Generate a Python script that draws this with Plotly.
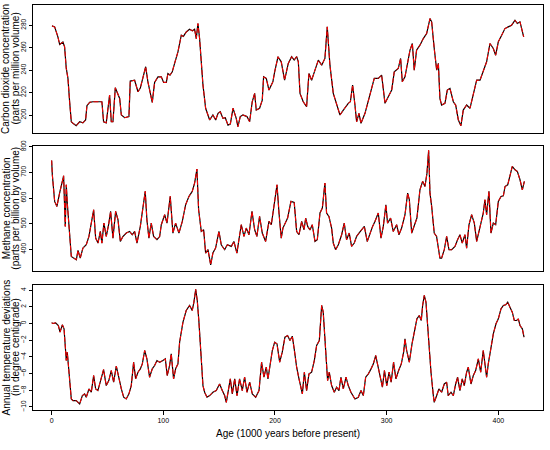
import plotly.graph_objects as go

# ---------------- data ----------------
co2_age = [0.3, 2.7, 5.6, 7.2, 10.1, 11.6, 13.1, 14.6, 16.1, 17.6,
           19.1, 22.0, 25.1, 28.0, 30.4, 31.6, 34.0, 37.0, 45.0, 46.5,
           48.9, 51.9, 53.4, 54.9, 57.0, 60.9, 62.4, 65.4, 69.2, 70.4,
           74.3, 77.3, 79.4, 81.8, 84.2, 86.2, 90.1, 92.2, 95.2, 98.2,
           100.3, 102.7, 104.1, 106.0, 108.0, 110.1, 113.1, 116.1, 118.0, 120.5,
           123.5, 126.0, 128.0, 129.5, 131.0, 132.5, 135.5, 137.9, 140.0, 141.5,
           144.4, 146.9, 149.0, 151.0, 153.4, 155.5, 157.9, 160.0, 162.4, 165.3,
           166.8, 168.9, 171.3, 174.9, 177.3, 179.6, 181.8, 183.2, 186.2, 188.6,
           189.8, 192.2, 194.6, 196.6, 198.1, 199.7, 202.7, 205.6, 208.6, 211.9,
           214.9, 217.2, 219.4, 220.9, 222.4, 225.3, 228.3, 230.4, 232.8, 235.8,
           238.8, 241.8, 244.7, 246.8, 249.2, 252.2, 255.2, 258.2, 261.2, 265.6,
           267.5, 269.5, 271.6, 273.1, 275.2, 277.0, 280.6, 283.6, 286.6, 288.9,
           292.5, 295.5, 298.5, 301.5, 304.5, 306.8, 310.4, 312.5, 314.0, 316.4,
           318.8, 320.9, 323.0, 324.7, 326.8, 329.8, 332.8, 335.8, 338.8, 340.3,
           342.6, 344.8, 346.3, 347.7, 349.2, 352.2, 354.3, 356.7, 359.7, 361.8,
           364.2, 366.5, 368.6, 371.6, 374.6, 377.6, 380.6, 383.6, 386.5, 389.5,
           392.5, 395.5, 397.6, 400.0, 403.0, 405.9, 408.9, 411.9, 414.9, 417.0,
           419.4, 420.9, 422.7]
co2_ppmv = [279.4, 278.5, 269.6, 262.8, 265.0, 260.7, 241.5, 232.6, 211.8, 194.0,
            192.6, 190.5, 194.0, 193.0, 195.6, 208.3, 211.3, 211.8, 211.8, 194.0,
            193.0, 217.8, 194.0, 194.0, 224.3, 214.8, 200.0, 197.6, 198.6, 230.2,
            231.0, 220.7, 224.0, 233.2, 243.0, 229.6, 211.3, 229.0, 234.0, 234.0,
            229.0, 229.0, 237.0, 235.6, 238.5, 246.0, 256.3, 271.1, 270.0, 274.0,
            276.4, 275.0, 276.4, 268.0, 281.5, 268.0, 226.7, 206.0, 200.0, 195.6,
            200.0, 195.6, 201.5, 202.9, 197.0, 197.6, 191.0, 192.0, 206.0, 197.0,
            189.6, 198.6, 200.0, 198.6, 194.0, 211.8, 219.3, 204.4, 206.0, 213.3,
            234.0, 232.6, 222.2, 226.7, 229.6, 238.5, 251.9, 247.4, 231.1, 246.0,
            252.0, 249.0, 252.0, 247.4, 219.3, 211.8, 207.4, 237.0, 231.0, 240.0,
            248.9, 244.4, 250.4, 278.5, 244.4, 219.3, 208.9, 200.0, 204.4, 210.4,
            211.8, 226.7, 208.9, 194.0, 201.5, 192.6, 201.5, 213.3, 223.7, 232.6,
            232.6, 235.6, 210.4, 216.3, 222.2, 238.5, 241.5, 250.4, 229.6, 234.0,
            246.0, 257.8, 263.7, 240.0, 257.8, 262.2, 268.1, 272.6, 285.9, 283.0,
            259.3, 240.0, 246.0, 214.8, 208.9, 210.4, 222.2, 223.7, 211.8, 208.9,
            195.6, 190.5, 204.4, 208.9, 206.0, 219.3, 231.0, 231.0, 240.0, 247.4,
            263.7, 259.3, 253.3, 265.2, 271.1, 277.0, 278.5, 280.0, 284.4, 281.5,
            283.0, 275.6, 269.6]

ch4_age = [0.0, 0.6, 2.7, 4.7, 7.1, 8.6, 10.7, 12.2, 13.1, 14.0,
           15.5, 17.6, 19.7, 22.1, 23.6, 25.6, 28.0, 31.0, 33.4, 35.5,
           37.6, 39.4, 41.5, 43.6, 45.0, 46.8, 48.9, 51.0, 52.8, 54.9,
           57.3, 59.4, 61.5, 63.8, 66.8, 69.8, 72.2, 74.3, 76.4, 79.4,
           81.8, 83.8, 85.3, 87.1, 89.2, 91.3, 94.3, 96.7, 98.2, 101.2,
           103.3, 106.2, 108.6, 111.0, 114.0, 117.0, 120.0, 123.0, 125.9, 128.0,
           130.1, 131.6, 134.0, 136.1, 137.9, 140.0, 142.4, 144.4, 146.8, 149.8,
           151.9, 154.9, 157.3, 160.9, 163.2, 165.9, 167.7, 169.8, 172.2, 174.3,
           176.7, 179.4, 181.8, 183.8, 186.2, 188.6, 191.6, 194.6, 196.7, 198.8,
           201.8, 203.6, 205.6, 207.1,
           211.3, 214.3, 217.2, 219.4, 221.5, 223.9, 226.0, 227.5, 229.3, 231.3,
           233.4, 235.8, 237.9, 240.3, 242.4, 244.7, 246.2, 248.3, 250.7, 252.2,
           254.3, 256.7, 259.7, 262.0, 264.1, 266.5, 268.6, 271.0, 273.1, 275.2,
           277.6, 280.0, 282.6, 285.0, 287.4, 289.5, 292.5, 294.9, 297.0, 299.3,
           300.8, 303.5, 305.9, 308.9, 311.0, 313.4, 316.4, 318.8, 320.3, 322.4,
           324.7, 327.1, 329.8, 332.2, 334.3, 336.1, 337.6, 338.8, 340.3, 342.6,
           344.7, 346.2, 347.7, 349.2, 351.6, 353.7, 355.8, 358.2, 361.2, 363.5,
           365.6, 367.7, 370.1, 371.6, 373.7, 376.1, 378.5, 380.6, 383.0, 384.5,
           386.5, 388.0, 389.5, 391.6, 393.4, 395.5, 397.6, 400.0, 402.4, 404.5,
           406.0, 408.4, 410.4, 412.5, 414.9, 417.0, 419.4, 421.5, 423.3]
ch4_ppbv = [746.7, 690.7, 587.0, 567.5, 619.0, 645.0, 686.8, 489.6, 651.7, 580.4,
            476.4, 372.8, 366.0, 359.6, 396.0, 366.0, 405.0, 418.0, 450.6, 496.0,
            554.3, 444.0, 424.6, 470.0, 424.6, 502.5, 450.6, 496.0, 548.0, 444.0,
            548.0, 515.5, 431.0, 450.0, 463.5, 470.0, 457.0, 470.0, 424.6, 489.6,
            554.3, 626.0, 515.5, 444.0, 502.5, 450.6, 437.6, 450.0, 496.0, 535.0,
            502.5, 606.5, 463.5, 502.5, 463.5, 509.0, 574.0, 606.5, 626.0, 658.3,
            713.0, 554.3, 470.0, 476.4, 385.6, 398.7, 340.0, 385.6, 405.0, 470.0,
            418.0, 398.7, 418.0, 411.6, 431.0, 385.6, 437.6, 496.0, 450.6, 483.0,
            457.0, 548.0, 476.4, 450.6, 528.6, 463.5, 431.0, 509.0, 496.0, 567.6,
            651.7, 541.6, 444.0, 483.0,
            522.0, 587.0, 583.0, 470.0, 457.0, 509.0, 476.4, 522.0, 489.6, 476.0,
            496.0, 431.0, 437.6, 541.6, 561.0, 658.3, 541.6, 528.6, 483.0, 424.6,
            398.7, 418.0, 457.0, 502.5, 437.6, 463.5, 411.6, 424.6, 450.6, 463.5,
            476.4, 489.6, 431.0, 463.5, 489.6, 509.0, 541.6, 444.0, 489.6, 574.0,
            502.5, 522.0, 470.0, 496.0, 457.0, 483.0, 535.0, 619.0, 593.5, 463.5,
            489.6, 522.0, 632.0, 665.0, 645.0, 697.0, 785.7, 619.0, 567.5, 463.5,
            450.6, 398.7, 366.0, 366.0, 398.7, 450.6, 398.7, 398.7, 411.6, 437.6,
            457.0, 424.6, 457.0, 405.0, 496.0, 535.0, 502.5, 431.0, 476.4, 515.5,
            541.6, 593.5, 535.0, 626.0, 463.5, 502.5, 496.0, 587.0, 606.5, 609.0,
            645.0, 651.7, 684.4, 723.4, 710.0, 703.8, 671.3, 632.0, 664.8]

temp_age = [0.0, 1.2, 3.6, 6.0, 7.5, 9.6, 11.1, 13.1, 14.0, 15.5,
            17.6, 19.1, 22.0, 25.1, 27.5, 29.5, 31.0, 33.4, 35.5, 37.6,
            39.4, 41.4, 44.4, 46.5, 48.9, 51.2, 53.4, 55.5, 57.9, 60.3,
            62.4, 64.5, 66.8, 69.2, 71.3, 73.4, 75.2, 77.3, 79.4, 81.2,
            83.3, 85.3, 87.7, 90.1, 92.2, 94.3, 96.7, 99.7, 101.8, 103.5,
            105.6, 107.1, 109.2, 111.0, 113.1, 114.6, 117.6, 120.5, 123.5, 125.9,
            127.4, 129.0, 130.4, 131.9, 134.0, 135.5, 137.0, 139.1, 141.5, 144.4,
            147.4, 150.4, 152.8, 154.9, 156.4, 157.9, 160.0, 161.8, 163.9, 166.0,
            168.3, 170.7, 172.8, 174.9, 177.3, 179.7, 182.7, 185.7, 188.0, 190.1,
            192.2, 193.7, 195.8, 197.6, 199.7, 201.8, 204.2, 206.5, 208.9, 211.3,
            213.4, 215.5, 217.2, 219.4, 221.5, 223.3, 224.5, 226.3, 228.3, 230.4,
            232.8, 235.2, 237.3, 239.7, 241.8, 243.2, 244.7, 247.1, 248.6, 250.7,
            253.1, 255.2, 257.3, 259.0, 261.2, 263.6, 265.6, 268.0, 271.6, 274.6,
            277.0, 279.1, 281.2, 283.6, 286.0, 288.1, 290.2, 292.0, 294.1, 296.2,
            298.0, 300.1, 302.2, 304.0, 306.2, 308.3, 310.7, 313.1, 315.2, 316.4,
            317.9, 320.3, 322.7, 325.0, 327.1, 329.2, 331.0, 332.2, 333.7, 335.2,
            337.3, 339.7, 341.8, 342.6, 344.8, 346.8, 349.2, 351.6, 353.7, 355.1,
            357.6, 359.7, 361.8, 363.5, 365.6, 367.7, 369.5, 371.6, 373.1, 375.5,
            377.6, 379.7, 382.1, 384.2, 386.5, 388.0, 389.5, 391.0, 393.4, 395.5,
            397.9, 400.0, 402.4, 404.5, 406.6, 408.4, 410.4, 412.5, 414.3, 416.4,
            417.9, 419.4, 421.5, 423.0]
temp_dev = [0.08, 0.0, 0.08, -0.24, -1.04, -0.16, -0.64, -4.44, -3.44, -6.24,
            -9.05, -9.25, -9.25, -9.65, -8.64, -8.44, -8.84, -7.85, -8.24, -6.24,
            -7.85, -8.04, -6.64, -5.52, -7.44, -6.84, -5.64, -7.04, -5.12, -6.64,
            -7.85, -8.84, -9.05, -8.44, -7.44, -4.64, -6.64, -5.84, -5.44, -4.84,
            -3.24, -4.24, -6.44, -5.44, -5.04, -4.44, -4.64, -4.44, -4.24, -6.24,
            -5.04, -3.64, -6.64, -5.44, -4.84, -2.24, 0.16, 1.56, 2.16, 1.56,
            2.56, 4.08, 2.76, 0.16, -4.24, -7.44, -8.24, -8.84, -8.64, -8.24,
            -8.04, -7.25, -8.04, -8.64, -9.45, -8.24, -6.64, -8.44, -6.64, -8.64,
            -6.64, -8.04, -6.44, -8.24, -7.04, -8.44, -8.84, -8.04, -4.64, -6.44,
            -5.24, -6.64, -4.64, -3.24, -2.24, -2.44, -4.64, -3.44, -1.64, -1.44,
            -2.04, -1.52, -3.04, -5.24, -6.64, -7.85, -8.44, -5.84, -8.04, -6.04,
            -5.84, -4.44, -2.64, -2.04, 2.16, 1.36, -1.84, -6.84, -5.84, -7.44,
            -8.24, -7.64, -8.04, -6.44, -7.85, -6.44, -7.44, -8.24, -9.05, -8.84,
            -8.04, -8.64, -6.44, -6.04, -5.44, -4.84, -3.84, -5.04, -6.64, -7.64,
            -5.64, -7.44, -5.84, -7.04, -4.64, -6.64, -5.64, -4.84, -3.44, -1.84,
            -3.24, -4.64, -2.44, -0.64, 0.56, 0.96, 0.36, 2.16, 3.36, 2.56,
            -1.84, -5.84, -8.64, -9.45, -8.64, -7.85, -8.24, -7.25, -7.04, -8.64,
            -8.24, -8.64, -7.25, -6.44, -8.04, -6.64, -7.44, -5.84, -5.24, -7.25,
            -6.24, -5.64, -4.24, -5.84, -3.24, -5.04, -6.44, -4.84, -2.64, -1.24,
            -0.04, 0.56, 1.76, 2.16, 2.24, 2.56, 1.96, 1.36, 0.36, 0.36,
            0.56, -0.24, -0.64, -1.64]

x_ticks = [0, 100, 200, 300, 400]
co2_ticks = [200, 220, 240, 260, 280]
ch4_ticks = [400, 500, 600, 700, 800]
temp_ticks = [4, 2, 0, -2, -4, -6, -8, -10]

titles = [("Carbon dioxide concentration", "(parts per million volume)"),
          ("Methane concentration", "(parts per billion by volume)"),
          ("Annual temperature deviations", "(in degree centigrade)")]
x_title = "Age (1000 years before present)"

# ---------------- figure ----------------
FONT = "Liberation Sans, Arial, Helvetica, sans-serif"
fig = go.Figure()

panels = [(co2_age, co2_ppmv, "", "y"),
          (ch4_age, ch4_ppbv, "2", "y2"),
          (temp_age, temp_dev, "3", "y3")]
for ages, vals, sfx, yref in panels:
    fig.add_trace(go.Scatter(x=ages, y=vals, mode="lines", xaxis="x" + sfx, yaxis=yref,
                             line=dict(color="black", width=1.2), showlegend=False,
                             hoverinfo="skip"))
    fig.add_trace(go.Scatter(x=ages, y=vals, mode="lines", xaxis="x" + sfx, yaxis=yref,
                             line=dict(color="#ff0000", width=1.0, dash="5px,2px"),
                             showlegend=False, hoverinfo="skip"))

axis_common = dict(showline=True, mirror=True, linecolor="black", linewidth=1,
                   showgrid=False, zeroline=False, automargin=False)
xr = [-16.7, 440]
domains = [[0.684, 1.0], [0.344, 0.6526], [0.0, 0.309]]
yranges = [[184, 298], [317, 804], [-10.37, 4.63]]
yticks = [co2_ticks, ch4_ticks, temp_ticks]

layout = dict(width=550, height=450, paper_bgcolor="white", plot_bgcolor="white",
              margin=dict(l=33, r=7, t=5, b=40, autoexpand=False),
              font=dict(family=FONT, color="black"))
for i, sfx in enumerate(["", "2", "3"]):
    xa = dict(axis_common, range=xr, domain=[0, 1], anchor="y" + sfx)
    if i < 2:
        xa.update(showticklabels=False, ticks="")
    else:
        xa.update(tickvals=x_ticks, ticks="outside", ticklen=4, tickwidth=1,
                  tickcolor="black", tickfont=dict(size=7, family=FONT))
    ya = dict(axis_common, range=yranges[i], domain=domains[i], anchor="x" + sfx,
              tickvals=yticks[i], ticks="outside", ticklen=3, tickwidth=1,
              tickcolor="black", tickangle=-90, tickfont=dict(size=6.5, family=FONT))
    layout["xaxis" + sfx] = xa
    layout["yaxis" + sfx] = ya

fig.update_layout(**layout)

# y-axis titles: two rotated lines per panel
for i, (l1, l2) in enumerate(titles):
    d = domains[i]
    for txt, px in ((l1, 6.0), (l2, 15.5)):
        fig.add_annotation(text=txt, xref="paper", yref="paper", x=(px - 33) / 510,
                           y=(d[0] + d[1]) / 2, xanchor="center", yanchor="middle",
                           textangle=-90, showarrow=False,
                           font=dict(size=10, family=FONT, color="black"))
fig.add_annotation(text=x_title, xref="paper", yref="paper", x=(287.5 - 33) / 510,
                   y=-0.057, xanchor="center", yanchor="middle", showarrow=False,
                   font=dict(size=10, family=FONT, color="black"))

fig.write_html("out.html", config={"displayModeBar": False},
               post_script="document.body.style.margin='0';document.body.style.overflow='hidden';")
